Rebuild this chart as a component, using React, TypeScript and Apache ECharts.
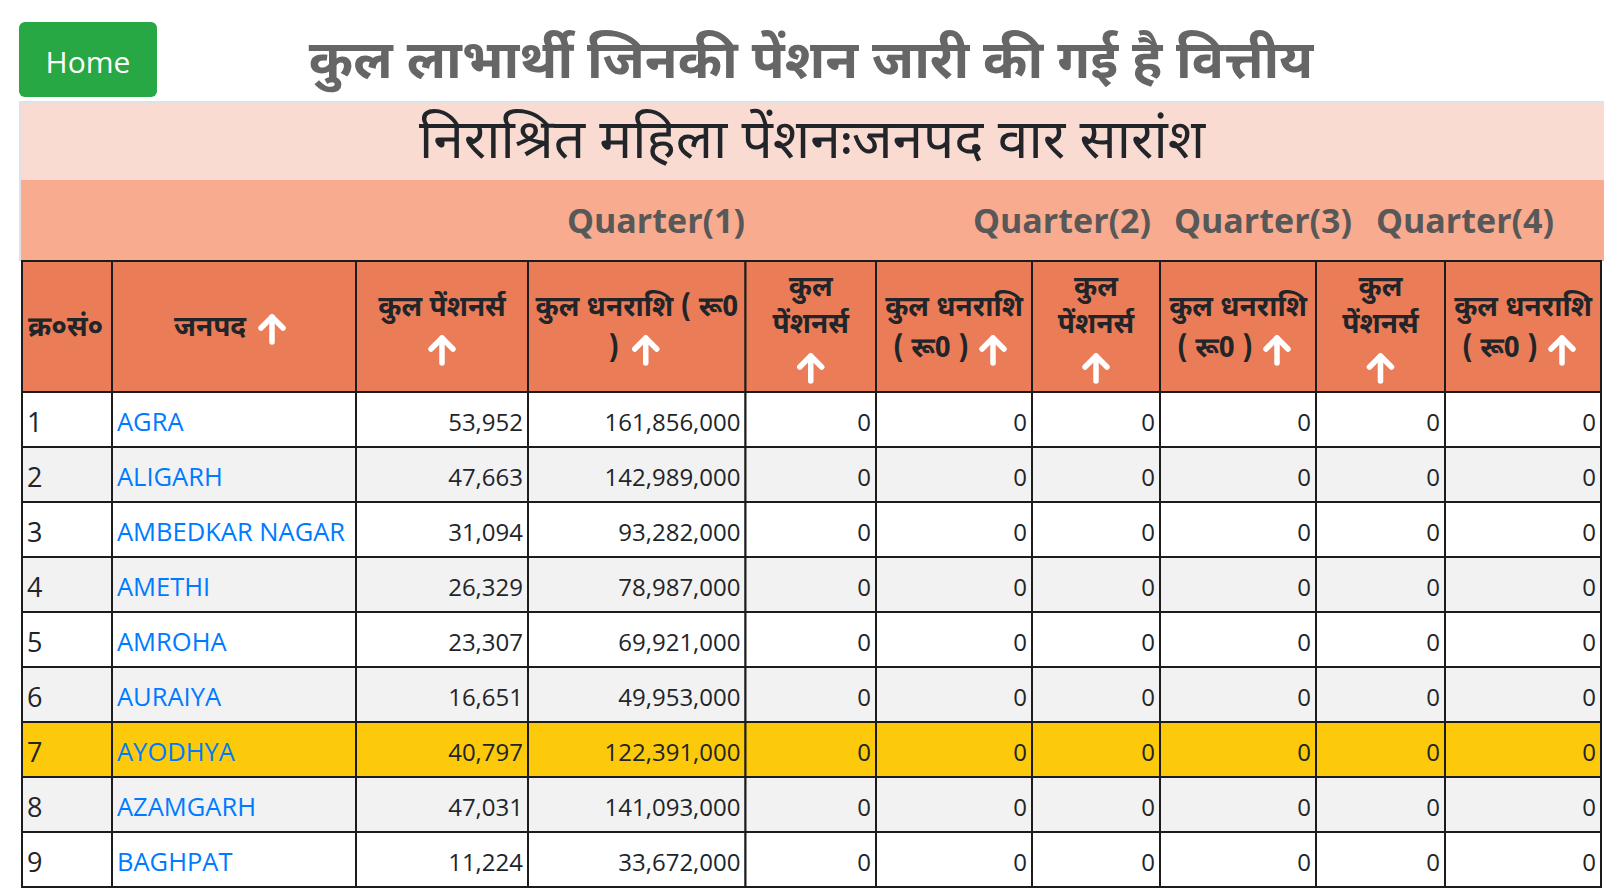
import React, { useEffect, useRef } from "react";
import * as echarts from "echarts";

// ---------- data ----------
const titleText = "कुल लाभार्थी जिनकी पेंशन जारी की गई है वित्तीय";
const subtitleText = "निराश्रित महिला पेंशनःजनपद वार सारांश";
const homeLabel = "Home";
const quarterLabels = ["Quarter(1)", "Quarter(2)", "Quarter(3)", "Quarter(4)"];
const headerSerial = "क्र०सं०";
const headerDistrict = "जनपद";
const headerPensioners = "कुल पेंशनर्स";
const headerAmount = "कुल धनराशि ( रू0 )";
const serialNumbers = [1, 2, 3, 4, 5, 6, 7, 8, 9];
const districts = ["AGRA", "ALIGARH", "AMBEDKAR NAGAR", "AMETHI", "AMROHA", "AURAIYA", "AYODHYA", "AZAMGARH", "BAGHPAT"];
const q1Pensioners = [53952, 47663, 31094, 26329, 23307, 16651, 40797, 47031, 11224];
const q1Amount = [161856000, 142989000, 93282000, 78987000, 69921000, 49953000, 122391000, 141093000, 33672000];
const q2Pensioners = [0, 0, 0, 0, 0, 0, 0, 0, 0];
const q2Amount = [0, 0, 0, 0, 0, 0, 0, 0, 0];
const q3Pensioners = [0, 0, 0, 0, 0, 0, 0, 0, 0];
const q3Amount = [0, 0, 0, 0, 0, 0, 0, 0, 0];
const q4Pensioners = [0, 0, 0, 0, 0, 0, 0, 0, 0];
const q4Amount = [0, 0, 0, 0, 0, 0, 0, 0, 0];
const highlightedDistrict = "AYODHYA";

// ---------- layout & style ----------
const W = 1604;
const H = 890;
const colEdges = [22, 112, 356, 528, 745.5, 876, 1032, 1160, 1316, 1445, 1601];
const tableTop = 261;
const headerBottom = 392;
const rowHeight = 55;
const quarterCenters = [656, 1062, 1263, 1465];

const DEV = "'Noto Sans Devanagari', 'Lohit Devanagari', 'Noto Sans', 'Open Sans', sans-serif";
const LAT = "'Open Sans', 'Noto Sans', sans-serif";
const lineColor = "#1c1c1c";
const headerFill = "#ea7c57";
const quarterFill = "#f9ab8f";
const bannerFill = "#fadbd1";
const stripeFill = "#f2f2f2";
const highlightFill = "#fcc90b";
const textColor = "#212529";
const linkColor = "#007bff";

const fmt = (v: number) => v.toLocaleString("en-US");

function txt(x: number, y: number, text: string, font: string, fill: string, align = "center", vAlign = "middle") {
  return {
    type: "text",
    x,
    y,
    style: { text, font, fill, textAlign: align, textVerticalAlign: vAlign, align, verticalAlign: vAlign },
  };
}

function arrow(cx: number, cy: number) {
  const s = { stroke: "#ffffff", lineWidth: 5.5, lineCap: "round", lineJoin: "round", fill: null };
  return {
    type: "group",
    children: [
      { type: "polyline", shape: { points: [[cx, cy - 12], [cx, cy + 13]] }, style: s },
      { type: "polyline", shape: { points: [[cx - 11, cy - 1], [cx, cy - 12], [cx + 11, cy - 1]] }, style: s },
    ],
  };
}

function buildGraphic() {
  const els: any[] = [];
  // Home button
  els.push({ type: "rect", shape: { x: 19, y: 22, width: 138, height: 75, r: 6 }, style: { fill: "#28a745" } });
  els.push(txt(88, 61, homeLabel, `30px ${LAT}`, "#ffffff"));
  // main title
  els.push(txt(811, 65, titleText, `bold 53.5px ${DEV}`, "#666666"));
  // banner
  els.push({ type: "rect", shape: { x: 19, y: 102, width: W - 19, height: 78 }, style: { fill: bannerFill } });
  els.push({ type: "rect", shape: { x: 19, y: 180, width: W - 19, height: 81 }, style: { fill: quarterFill } });
  els.push({ type: "line", shape: { x1: 19, y1: 102, x2: W, y2: 102 }, style: { stroke: "#dee2e6", lineWidth: 2 } });
  els.push({ type: "line", shape: { x1: 20, y1: 102, x2: 20, y2: 261 }, style: { stroke: "#dee2e6", lineWidth: 2 } });
  els.push(txt(812, 144, subtitleText, `55px ${DEV}`, textColor));
  quarterLabels.forEach((q, i) => els.push(txt(quarterCenters[i], 220, q, `bold 34px ${LAT}`, "#585858")));
  // header cells
  for (let c = 0; c < 10; c++) {
    els.push({
      type: "rect",
      shape: { x: colEdges[c], y: tableTop, width: colEdges[c + 1] - colEdges[c], height: headerBottom - tableTop },
      style: { fill: headerFill, stroke: lineColor, lineWidth: 2 },
    });
  }
  const hf = `bold 28px ${DEV}`;
  const mid = (c: number) => (colEdges[c] + colEdges[c + 1]) / 2;
  els.push(txt(28, 329, headerSerial, hf, textColor, "left"));
  els.push(txt(210, 329, headerDistrict, hf, textColor));
  els.push(arrow(272, 329));
  // col 2
  els.push(txt(mid(2), 309, headerPensioners, hf, textColor));
  els.push(arrow(mid(2), 350));
  // col 3 (wrapped: "कुल धनराशि ( रू0" / ")")
  const amountParts = headerAmount.split(" ");
  els.push(txt(mid(3), 309, amountParts.slice(0, 4).join(" "), hf, textColor));
  els.push(txt(mid(3) - 23, 350, amountParts[4], hf, textColor));
  els.push(arrow(mid(3) + 9, 350));
  // narrow columns
  const pParts = headerPensioners.split(" ");
  [4, 6, 8].forEach((c) => {
    els.push(txt(mid(c), 289, pParts[0], hf, textColor));
    els.push(txt(mid(c), 326, pParts[1], hf, textColor));
    els.push(arrow(mid(c), 368));
  });
  [5, 7, 9].forEach((c) => {
    els.push(txt(mid(c), 309, amountParts.slice(0, 2).join(" "), hf, textColor));
    els.push(txt(mid(c) - 23, 350, amountParts.slice(2).join(" "), hf, textColor));
    els.push(arrow(mid(c) + 39, 350));
  });
  return els;
}

function rowCells(i: number): string[] {
  return [
    String(serialNumbers[i]),
    districts[i],
    fmt(q1Pensioners[i]),
    fmt(q1Amount[i]),
    fmt(q2Pensioners[i]),
    fmt(q2Amount[i]),
    fmt(q3Pensioners[i]),
    fmt(q3Amount[i]),
    fmt(q4Pensioners[i]),
    fmt(q4Amount[i]),
  ];
}

export default function App() {
  const ref = useRef<HTMLDivElement>(null);
  useEffect(() => {
    if (!ref.current) return;
    const chart = echarts.init(ref.current, null, { renderer: "svg" });
    const option: any = {
      animation: false,
      grid: { left: 0, top: 0, right: 0, bottom: 0 },
      xAxis: { type: "value", min: 0, max: W, show: false },
      yAxis: { type: "value", min: 0, max: H, inverse: true, show: false },
      graphic: { elements: buildGraphic() },
      series: [
        {
          type: "custom",
          clip: false,
          data: districts.map((_, i) => [i]),
          renderItem: (params: any, api: any) => {
            const i = api.value(0);
            const yTop = headerBottom + i * rowHeight;
            const yBot = yTop + rowHeight;
            const bg = districts[i] === highlightedDistrict ? highlightFill : i % 2 === 1 ? stripeFill : "#ffffff";
            const cells = rowCells(i);
            const children: any[] = [];
            for (let c = 0; c < 10; c++) {
              const p0 = api.coord([colEdges[c], yTop]);
              const p1 = api.coord([colEdges[c + 1], yBot]);
              children.push({
                type: "rect",
                shape: { x: p0[0], y: p0[1], width: p1[0] - p0[0], height: p1[1] - p0[1] },
                style: { fill: bg, stroke: lineColor, lineWidth: 2 },
              });
              const cy = (p0[1] + p1[1]) / 2 + 1.5;
              if (c === 0) children.push(txt(p0[0] + 5, cy, cells[c], `27px ${LAT}`, textColor, "left"));
              else if (c === 1) children.push(txt(p0[0] + 5, cy, cells[c], `25.5px ${LAT}`, linkColor, "left"));
              else children.push(txt(p1[0] - 5, cy, cells[c], `24px ${LAT}`, textColor, "right"));
            }
            return { type: "group", children };
          },
        },
      ],
    };
    chart.setOption(option);
    return () => chart.dispose();
  }, []);
  return <div ref={ref} style={{ position: "fixed", left: 0, top: 0, width: W, height: H, background: "#fff" }} />;
}
